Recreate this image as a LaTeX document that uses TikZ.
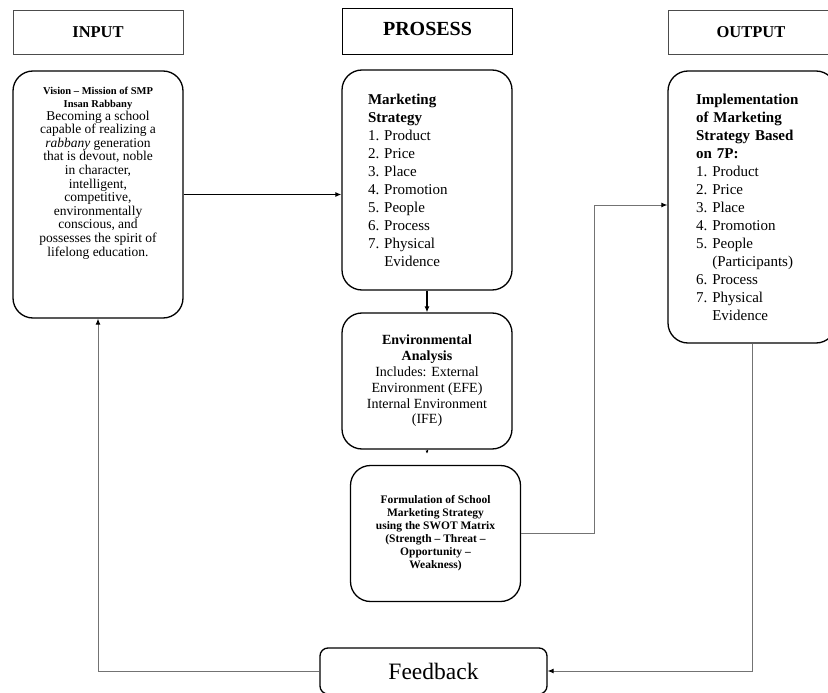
\documentclass[tikz,border=0pt]{standalone}
\usepackage{fontspec}
\setmainfont{Liberation Serif}
\usetikzlibrary{arrows.meta,positioning}

\begin{document}
\begin{tikzpicture}[x=1pt,y=-1pt,
    head/.style={draw=black!70,line width=0.9pt,minimum width=170pt,minimum height=44pt,inner sep=0pt,font=\fontsize{16.5}{18}\selectfont\bfseries},
    block/.style={draw,line width=1.3pt,rounded corners=20pt,inner sep=0pt,minimum width=170pt},
    link/.style={draw=black!55,line width=0.9pt},
    tip/.style={-{Latex[length=6pt,width=5pt,black]}}]

    \useasboundingbox (0,0) rectangle (828,693);

    % Column headers
    \node[head] (input) at (98,32) {INPUT};
    \node[head,draw=black,line width=1.6pt,minimum height=46pt,text depth=6pt,font=\fontsize{20}{22}\selectfont\bfseries] (prosess) at (427.5,31.5) {PROSESS};
    \node[head,minimum width=166pt] (output) at (751,32) {OUTPUT};

    % Input: vision and mission
    \node[block,minimum height=247pt] (vision) at (98,194.5) {};
    \node[align=center,inner sep=0pt,font=\fontsize{13.5}{13.6}\selectfont,below=17pt of vision.north] (visiontext)
        {{\fontsize{10.5}{11}\selectfont\bfseries Vision -- Mission of SMP}\\[-1pt]
         {\fontsize{10.5}{11}\selectfont\bfseries Insan Rabbany}\\[-1pt]
         Becoming a school\\ capable of realizing a\\ \textit{rabbany} generation\\ that is devout, noble\\
         in character,\\ intelligent,\\ competitive,\\ environmentally\\ conscious, and\\
         possesses the spirit of\\ lifelong education.};

    % Process column
    \node[block,minimum height=220pt,align=left,text width=118pt,font=\fontsize{15}{18}\selectfont] (strategy) at (427,180)
        {\textbf{Marketing}\\ \textbf{Strategy}\\ 1.\ Product\\ 2.\ Price\\ 3.\ Place\\ 4.\ Promotion\\
         5.\ People\\ 6.\ Process\\ 7.\ Physical\\ \hphantom{7.\ }Evidence};
    \node[block,minimum height=136pt,align=center,font=\fontsize{14}{15.8}\selectfont] (env) at (427,381)
        {\textbf{Environmental}\\ \textbf{Analysis}\\ Includes: External\\ Environment (EFE)\\ Internal Environment\\ (IFE)};
    \node[block,minimum height=136pt,align=center,font=\fontsize{11.5}{13}\selectfont\bfseries] (swot) at (435.5,533.5)
        {Formulation of School\\ Marketing Strategy\\ using the SWOT Matrix\\ (Strength -- Threat --\\ Opportunity --\\ Weakness)};

    % Output column
    \node[block,minimum width=168pt,minimum height=272pt,align=left,text width=112pt,font=\fontsize{15}{18}\selectfont] (impl) at (752,207)
        {\textbf{Implementation}\\ \textbf{of Marketing}\\ \textbf{Strategy Based}\\ \textbf{on 7P:}\\
         1.\ Product\\ 2.\ Price\\ 3.\ Place\\ 4.\ Promotion\\ 5.\ People\\ \hphantom{5.\ }(Participants)\\
         6.\ Process\\ 7.\ Physical\\ \hphantom{7.\ }Evidence};

    % Feedback
    \node[block,rounded corners=8pt,minimum width=227pt,minimum height=46pt,font=\fontsize{23.5}{25}\selectfont] (feedback) at (433.5,671) {Feedback};

    % Connectors
    \coordinate (envend) at ([yshift=-4pt]env.south);
    \coordinate (bend) at (594,205);
    \draw[tip,line width=1.1pt] (vision.east) -- (vision.east -| strategy.west);
    \draw[tip,line width=1.1pt] (strategy) -- (env);
    \draw[-{Latex[length=3pt,width=3pt]},line width=0.8pt] (env.south) -- (envend);
    \draw[link,tip] (swot.east) -| (bend) -- (bend -| impl.west);
    \draw[link,tip] (impl.south) |- (feedback.east);
    \draw[link,tip] (feedback.west) -| (vision.south);

\end{tikzpicture}
\end{document}
